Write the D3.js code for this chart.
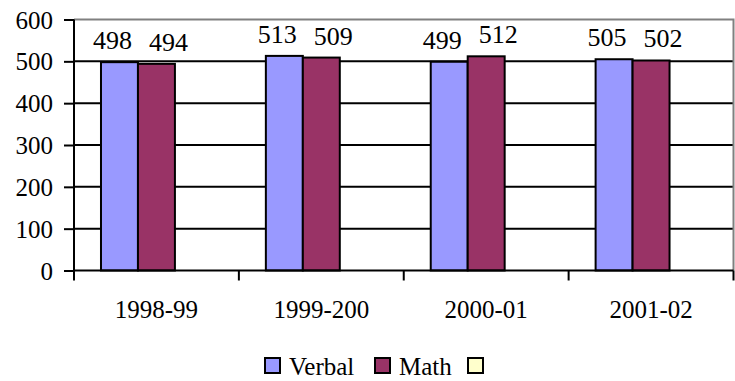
<!DOCTYPE html>
<html><head><meta charset="utf-8">
<script src="https://cdn.jsdelivr.net/npm/d3@7/dist/d3.min.js"></script>
<style>body{margin:0;background:#fff}svg{display:block}</style>
</head><body><svg id="c" width="735" height="381"></svg>
<script>
const categories = ["1998-99", "1999-200", "2000-01", "2001-02"];
const seriesNames = ["Verbal", "Math", ""];
const verbal = [498, 513, 499, 505];
const math = [494, 509, 512, 502];
const empty = [null, null, null, null];
const yTicks = [0, 100, 200, 300, 400, 500, 600];
const colors = ["#9999FF", "#993366", "#FFFFCC"];

const FONT = "'Liberation Serif', 'Times New Roman', Times, Tinos, 'Nimbus Roman', 'Nimbus Roman No9 L', FreeSerif, 'Noto Serif', 'DejaVu Serif', Georgia, serif";
const seriesValues = [verbal, math, empty];
const svg = d3.select("#c").style("font-family", FONT);
const L = 74, R = 733.5, T = 19.5, B = 270.5;
const x = d3.scaleBand().domain(categories).range([L, R]);
const inner = d3.scaleBand().domain(d3.range(3)).range([0, x.bandwidth()]).paddingInner(0).paddingOuter(0.73);
const y = d3.scaleLinear().domain([0, 600]).range([B, T]);

svg.append("g").selectAll("line").data(yTicks.filter(d => d > 0 && d < 600)).join("line")
  .attr("x1", L).attr("x2", R).attr("y1", d => y(d)).attr("y2", d => y(d))
  .attr("stroke", "#000").attr("stroke-width", 2);
svg.append("path").attr("d", `M${L},${y(600)}H${R}V${B}`).attr("fill", "none").attr("stroke", "#808080").attr("stroke-width", 2);

const data = [];
categories.forEach((c, i) => seriesValues.forEach((s, j) => { if (s[i] != null) data.push({c, j, v: s[i]}); }));
svg.append("g").selectAll("rect").data(data).join("rect")
  .attr("x", d => x(d.c) + inner(d.j)).attr("width", inner.bandwidth())
  .attr("y", d => y(d.v)).attr("height", d => y(0) - y(d.v))
  .attr("fill", d => colors[d.j]).attr("stroke", "#000").attr("stroke-width", 2);

const labelDx = [-7, 12, 0];
svg.append("g").selectAll("text").data(data).join("text")
  .attr("x", d => x(d.c) + inner(d.j) + inner.bandwidth() / 2 + labelDx[d.j])
  .attr("y", d => y(d.v) - 13).attr("text-anchor", "middle")
  .style("font-family", FONT).style("font-size", "26px").attr("fill", "#000")
  .text(d => d.v);

const ya = svg.append("g").attr("transform", `translate(${L},0)`)
  .call(d3.axisLeft(y).tickValues(yTicks).tickSize(10).tickPadding(11).tickFormat(d3.format("d")));
ya.attr("font-family", null).attr("font-size", null);
ya.select(".domain").attr("stroke", "#000").attr("stroke-width", 2).attr("d", `M0,${T}V${B}`);
ya.selectAll(".tick line").attr("stroke", "#000").attr("stroke-width", 2);
ya.selectAll(".tick text").style("font-size", "25px").style("font-family", FONT).attr("fill", "#000").attr("dy", "0.34em");

const xa = svg.append("g").attr("transform", `translate(0,${B})`)
  .call(d3.axisBottom(x).tickSize(0).tickPadding(30));
xa.attr("font-family", null).attr("font-size", null);
xa.select(".domain").attr("stroke", "#000").attr("stroke-width", 2).attr("d", `M${L},0H${R}`);
xa.selectAll(".tick text").style("font-size", "25px").style("font-family", FONT).attr("fill", "#000");
const xt = categories.map(c => x(c)).concat([x.range()[1]]);
xa.append("g").selectAll("line").data(xt).join("line")
  .attr("x1", d => d).attr("x2", d => d).attr("y1", 0).attr("y2", 10)
  .attr("stroke", "#000").attr("stroke-width", 2);

const legX = [265, 375, 468];
const lg = svg.append("g");
seriesNames.forEach((n, j) => {
  lg.append("rect").attr("x", legX[j]).attr("y", 358).attr("width", 15).attr("height", 15)
    .attr("fill", colors[j]).attr("stroke", "#000").attr("stroke-width", 2);
  lg.append("text").attr("x", legX[j] + 24).attr("y", 375).style("font-size", "25px").style("font-family", FONT).attr("fill", "#000").text(n);
});
</script></body></html>
